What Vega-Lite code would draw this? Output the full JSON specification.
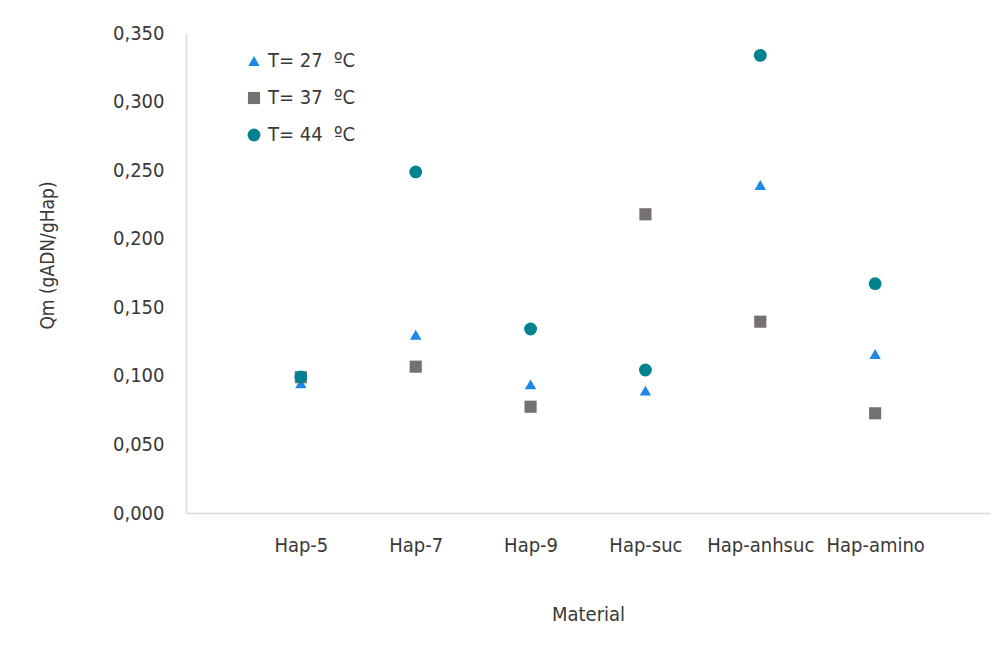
{
  "$schema": "https://vega.github.io/schema/vega-lite/v6.json",
  "autosize": "none",
  "width": 804,
  "height": 480,
  "padding": {"left": 186, "top": 33, "right": 16, "bottom": 134},
  "background": "white",
  "config": {
    "locale": {"number": {"decimal": ",", "thousands": ".", "grouping": [3], "currency": ["", " €"]}},
    "font": "Liberation Sans Narrow, DejaVu Sans Condensed, sans-serif",
    "view": {"stroke": null}
  },
  "data": {
    "values": [
      {"Material": "Hap-5", "Serie": "T= 27  ºC", "Qm": 0.0946},
      {"Material": "Hap-7", "Serie": "T= 27  ºC", "Qm": 0.130},
      {"Material": "Hap-9", "Serie": "T= 27  ºC", "Qm": 0.0938},
      {"Material": "Hap-suc", "Serie": "T= 27  ºC", "Qm": 0.0892},
      {"Material": "Hap-anhsuc", "Serie": "T= 27  ºC", "Qm": 0.2392},
      {"Material": "Hap-amino", "Serie": "T= 27  ºC", "Qm": 0.1159},
      {"Material": "Hap-5", "Serie": "T= 37  ºC", "Qm": 0.0990},
      {"Material": "Hap-7", "Serie": "T= 37  ºC", "Qm": 0.1067},
      {"Material": "Hap-9", "Serie": "T= 37  ºC", "Qm": 0.0775},
      {"Material": "Hap-suc", "Serie": "T= 37  ºC", "Qm": 0.2178},
      {"Material": "Hap-anhsuc", "Serie": "T= 37  ºC", "Qm": 0.1395},
      {"Material": "Hap-amino", "Serie": "T= 37  ºC", "Qm": 0.0727},
      {"Material": "Hap-5", "Serie": "T= 44  ºC", "Qm": 0.0993},
      {"Material": "Hap-7", "Serie": "T= 44  ºC", "Qm": 0.2487},
      {"Material": "Hap-9", "Serie": "T= 44  ºC", "Qm": 0.1342},
      {"Material": "Hap-suc", "Serie": "T= 44  ºC", "Qm": 0.1043},
      {"Material": "Hap-anhsuc", "Serie": "T= 44  ºC", "Qm": 0.3337},
      {"Material": "Hap-amino", "Serie": "T= 44  ºC", "Qm": 0.1672}
    ]
  },
  "mark": {"type": "point", "filled": true, "opacity": 1},
  "encoding": {
    "x": {
      "field": "Material",
      "type": "nominal",
      "sort": ["Hap-5", "Hap-7", "Hap-9", "Hap-suc", "Hap-anhsuc", "Hap-amino"],
      "scale": {"type": "point", "padding": 1},
      "axis": {
        "title": "Material",
        "titleFontSize": 20,
        "titleFontWeight": "normal",
        "titleColor": "#3b3838",
        "titlePadding": 49,
        "labelFontSize": 20,
        "labelColor": "#3b3838",
        "labelPadding": 22,
        "labelAngle": 0,
        "ticks": false,
        "grid": false,
        "domainColor": "#d9d9d9",
        "domainWidth": 1.5
      }
    },
    "y": {
      "field": "Qm",
      "type": "quantitative",
      "scale": {"domain": [0, 0.35], "nice": false},
      "axis": {
        "title": "Qm (gADN/gHap)",
        "titleFontSize": 19,
        "titleFontWeight": "normal",
        "titleColor": "#3b3838",
        "titlePadding": 55,
        "titleY": 222,
        "values": [0, 0.05, 0.1, 0.15, 0.2, 0.25, 0.3, 0.35],
        "format": ".3f",
        "labelFontSize": 20,
        "labelColor": "#3b3838",
        "labelPadding": 22,
        "ticks": false,
        "grid": false,
        "domainColor": "#d9d9d9",
        "domainWidth": 1.5
      }
    },
    "shape": {
      "field": "Serie",
      "type": "nominal",
      "scale": {"domain": ["T= 27  ºC", "T= 37  ºC", "T= 44  ºC"], "range": ["triangle-up", "square", "circle"]},
      "legend": null
    },
    "color": {
      "field": "Serie",
      "type": "nominal",
      "scale": {"domain": ["T= 27  ºC", "T= 37  ºC", "T= 44  ºC"], "range": ["#1e88e5", "#767171", "#00838f"]},
      "legend": {
        "title": null,
        "orient": "none",
        "legendX": 58,
        "legendY": 18,
        "labelFontSize": 20,
        "labelColor": "#3b3838",
        "labelExpr": "replace(datum.label, '  ', '\u00a0\u00a0')",
        "symbolSize": 110,
        "rowPadding": 17,
        "labelOffset": 4,
        "symbolType": "circle"
      }
    },
    "size": {
      "field": "Serie",
      "type": "nominal",
      "scale": {"domain": ["T= 27  ºC", "T= 37  ºC", "T= 44  ºC"], "range": [130, 165, 190]},
      "legend": null
    }
  }
}
